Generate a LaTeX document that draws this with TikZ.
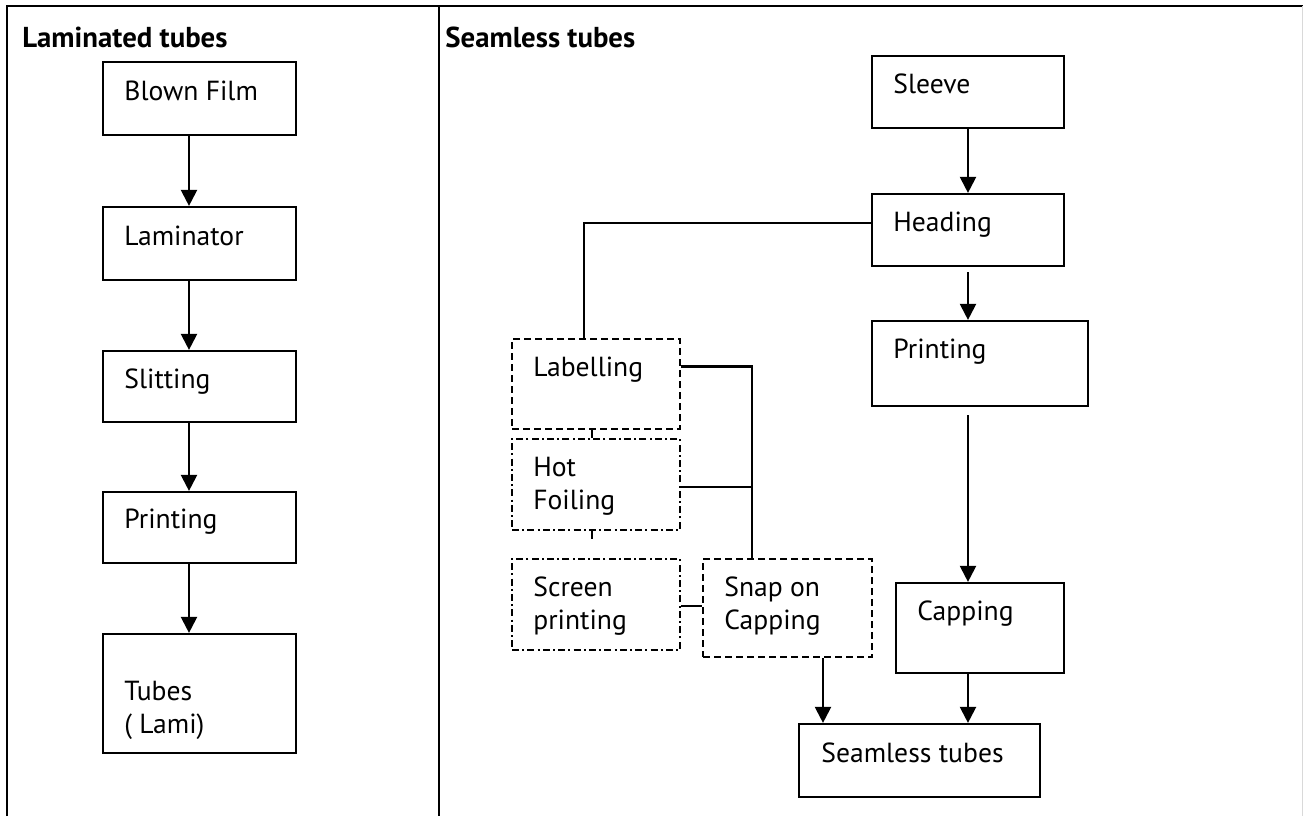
\documentclass[tikz,border=0pt]{standalone}
\usepackage{fontspec}
\setmainfont{PT Sans}
\usetikzlibrary{arrows.meta,fit,calc}
\tikzset{
  frameline/.style={line width=0.9pt},
  box/.style={draw, line width=1.1pt, rectangle, inner sep=0pt},
  dashbox/.style={box, line width=1pt, dash pattern=on 3.5pt off 2pt},
  dotbox/.style={box, line width=1pt, dash pattern=on 3.5pt off 1.6pt on 1pt off 1.6pt},
  txt/.style={anchor=base west, inner sep=0pt, align=left,
    font=\fontsize{13.8pt}{16.5pt}\selectfont},
  ttl/.style={anchor=base west, inner sep=0pt,
    font=\fontsize{14.4pt}{16pt}\selectfont\bfseries},
  flow/.style={line width=1.1pt, -{Triangle[length=8pt,width=8pt]}},
  link/.style={line width=1.1pt},
}
\begin{document}
\begin{tikzpicture}[x=0.5pt,y=-0.5pt]
\useasboundingbox (0,0) rectangle (1303,816);
% outer frame and column divider
\draw[frameline] (7,816) -- (7,6) -- (1303,6);
\draw[frameline] (439,6) -- (439,816);
\draw[line width=0.4pt, black!15] (1302,6) -- (1302,816);

% column titles
\node[ttl] (t-lam) at (22,47) {Laminated tubes};
\node[ttl] (t-seam) at (445,47) {Seamless tubes};

% ---- laminated tubes column ----
\node[box, fit={(103,62) (296,135)}] (bf) {};
\node[box, fit={(103,207) (296,280)}] (lam) {};
\node[box, fit={(103,351) (296,422)}] (slit) {};
\node[box, fit={(103,492) (296,563)}] (pr1) {};
\node[box, fit={(103,634) (296,753)}] (tub) {};
\node[txt] (bf-t) at (124,100) {Blown Film};
\node[txt] (lam-t) at (124,245) {Laminator};
\node[txt] (slit-t) at (124,388) {Slitting};
\node[txt] (pr1-t) at (124,528) {Printing};
\node[txt] (tub-t) at (124,733) {Tubes\\( Lami)};

\coordinate (lx) at (189,0);
\draw[flow] (bf.south -| lx) -- (lam.north -| lx);
\draw[flow] (lam.south -| lx) -- (slit.north -| lx);
\draw[flow] (slit.south -| lx) -- (pr1.north -| lx);
\draw[flow] (pr1.south -| lx) -- (tub.north -| lx);

% ---- seamless tubes column ----
\node[box, fit={(872,56) (1064,128)}] (slv) {};
\node[box, fit={(872,194) (1064,266)}] (hd) {};
\node[box, fit={(872,321) (1088,406)}] (pr2) {};
\node[box, fit={(896,583) (1064,673)}] (cap) {};
\node[box, fit={(799,724) (1040,797)}] (seam) {};
\node[dashbox, fit={(512,339) (680,429)}] (lab) {};
\node[dotbox, fit={(512,439) (680,530)}] (hot) {};
\node[dotbox, fit={(512,559) (680,650)}] (scr) {};
\node[dashbox, fit={(703,559) (872,657)}] (snap) {};

\node[txt] (slv-t) at (893,93) {Sleeve};
\node[txt] (hd-t) at (893,231) {Heading};
\node[txt] (pr2-t) at (893,358) {Printing};
\node[txt] (cap-t) at (917,620) {Capping};
\node[txt] (seam-t) at (821,762) {Seamless tubes};
\node[txt] (lab-t) at (533,376) {Labelling};
\node[txt] (hot-t) at (533,509) {Hot\\Foiling};
\node[txt] (scr-t) at (533,629) {Screen\\printing};
\node[txt] (snap-t) at (724,629) {Snap on\\Capping};

\coordinate (rx) at (968,0);
\coordinate (sx) at (823,0);
\coordinate (hdgap) at (968,272);
\coordinate (prgap) at (968,415);
\draw[flow] (slv.south -| rx) -- (hd.north -| rx);
\draw[flow] (hdgap) -- (pr2.north -| rx);
\draw[flow] (prgap) -- (cap.north -| rx);
\draw[flow] (cap.south -| rx) -- (seam.north -| rx);
\draw[flow] (snap.south -| sx) -- (seam.north -| sx);

% finishing branch
\coordinate (bx) at (584,223);
\coordinate (jx) at (752,0);
\coordinate (tx) at (592,0);
\draw[link] (hd.west |- bx) -- (bx) -- (lab.north -| bx);
\draw[link] ($(lab.north east)!0.31!(lab.south east)$) coordinate (labr)
  -- (labr -| jx) -- (snap.north -| jx);
\draw[link] ($(hot.north east)!0.53!(hot.south east)$) coordinate (hotr)
  -- (hotr -| jx);
\draw[link] ($(scr.north east)!0.52!(scr.south east)$) coordinate (scrr)
  -- (scrr -| snap.west);
\draw[line width=0.7pt] (lab.south -| tx) -- (hot.north -| tx);
\draw[line width=0.7pt] (hot.south -| tx) -- ++(0,8);
\end{tikzpicture}
\end{document}
